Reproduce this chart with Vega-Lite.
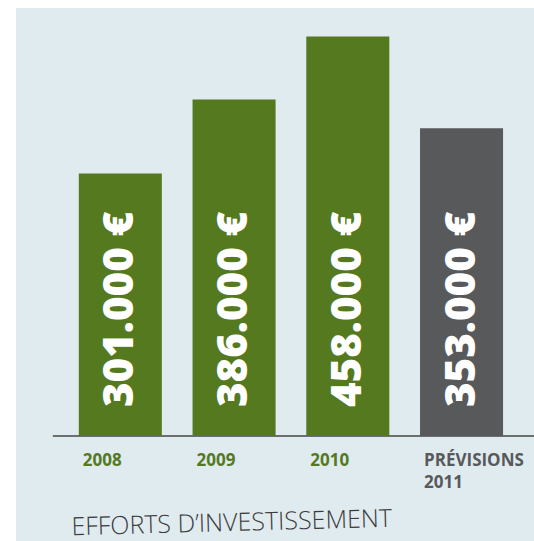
{
  "$schema": "https://vega.github.io/schema/vega-lite/v6.json",
  "autosize": {"type": "none"},
  "width": 518,
  "height": 533,
  "padding": {"left": 16, "top": 8, "right": 0, "bottom": 0},
  "background": "#ffffff",
  "config": {
    "view": {"fill": "#e0ebf0", "stroke": null}
  },
  "data": {
    "values": [
      {"annee": "2008", "label": "2008", "montant": 301000, "texte": "301.000 €", "type": "réalisé"},
      {"annee": "2009", "label": "2009", "montant": 386000, "texte": "386.000 €", "type": "réalisé"},
      {"annee": "2010", "label": "2010", "montant": 458000, "texte": "458.000 €", "type": "réalisé"},
      {"annee": "PRÉVISIONS 2011", "label": "PRÉVISIONS\n2011", "montant": 353000, "texte": "353.000 €", "type": "prévision"}
    ]
  },
  "encoding": {
    "x": {
      "field": "annee",
      "type": "nominal",
      "axis": null,
      "scale": {"paddingInner": 0.27, "paddingOuter": 0.412, "align": 0.67}
    },
    "y": {
      "field": "montant",
      "type": "quantitative",
      "axis": null,
      "scale": {"domain": [-120400, 490800], "nice": false, "zero": false}
    }
  },
  "layer": [
    {
      "transform": [{"filter": "datum.annee == '2008'"}],
      "mark": {"type": "rule", "color": "#6d6e70", "strokeWidth": 2, "xOffset": -26},
      "encoding": {
        "x": {"field": "annee", "type": "nominal", "bandPosition": 0},
        "x2": {"value": "width"},
        "y": {"datum": 0}
      }
    },
    {
      "mark": {"type": "bar"},
      "encoding": {
        "y2": {"datum": 0},
        "color": {
          "field": "type",
          "type": "nominal",
          "scale": {"domain": ["réalisé", "prévision"], "range": ["#55791f", "#58595b"]},
          "legend": null
        }
      }
    },
    {
      "mark": {
        "type": "text",
        "angle": 270,
        "align": "left",
        "baseline": "middle",
        "dx": 29,
        "font": "Open Sans",
        "fontWeight": 800,
        "fontSize": 42,
        "fill": "#ffffff"
      },
      "encoding": {
        "y": {"datum": 0},
        "text": {"field": "texte"}
      }
    },
    {
      "mark": {
        "type": "text",
        "align": "left",
        "baseline": "alphabetic",
        "dx": 4,
        "dy": 30,
        "font": "Open Sans",
        "fontWeight": "bold",
        "fontSize": 17,
        "lineBreak": "\n",
        "lineHeight": 22
      },
      "encoding": {
        "x": {"field": "annee", "type": "nominal", "bandPosition": 0},
        "y": {"datum": 0},
        "text": {"field": "label"},
        "color": {
          "field": "type",
          "type": "nominal",
          "scale": {"domain": ["réalisé", "prévision"], "range": ["#55791f", "#58595b"]},
          "legend": null
        }
      }
    },
    {
      "transform": [{"filter": "datum.annee == '2008'"}],
      "mark": {
        "type": "text",
        "text": "EFFORTS D’INVESTISSEMENT",
        "align": "left",
        "baseline": "alphabetic",
        "angle": -1.5,
        "font": "Open Sans",
        "fontWeight": 300,
        "fontSize": 25,
        "fill": "#3c3c3c",
        "dx": -7,
        "dy": -6
      },
      "encoding": {
        "x": {"field": "annee", "type": "nominal", "bandPosition": 0},
        "y": {"value": "height"}
      }
    }
  ]
}
